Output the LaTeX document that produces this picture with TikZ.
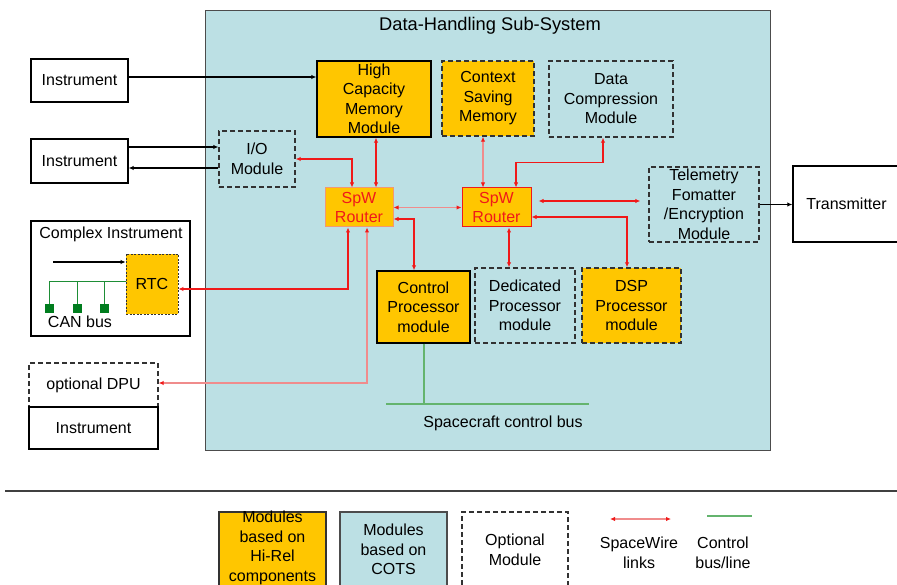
\documentclass[tikz,border=0pt]{standalone}
\usepackage{fontspec}
\setmainfont{Liberation Sans}
\usetikzlibrary{arrows.meta}
\definecolor{hirel}{RGB}{255,198,0}
\definecolor{cotsblue}{RGB}{188,224,228}
\definecolor{spwred}{RGB}{240,25,25}
\definecolor{spwpink}{RGB}{240,140,140}
\definecolor{busgreen}{RGB}{100,180,110}
\definecolor{cangreen}{RGB}{0,125,30}
\definecolor{dashgray}{RGB}{50,50,50}
\begin{document}
\begin{tikzpicture}[x=1pt,y=-1pt,
  every node/.style={font=\fontsize{16}{19.5}\selectfont, align=center, inner sep=0pt},
  sz/.style 2 args={minimum width=#1pt, minimum height=#2pt},
  solidbox/.style={draw=black, line width=1.4pt},
  optbox/.style={draw=dashgray, line width=1.4pt, dash pattern=on 5pt off 3pt},
  yel/.style={fill=hirel},
  router/.style={fill=hirel, text=spwred, line width=1pt},
  spw/.style={draw=spwred, line width=1.1pt, {Latex[length=5pt,width=4.5pt,color=spwred]}-{Latex[length=5pt,width=4.5pt,color=spwred]}},
  spwp/.style={spw, draw=spwpink},
  blk/.style={draw=black, line width=1.1pt, -{Latex[length=5pt,width=4.5pt]}},
  ctrl/.style={draw=busgreen, line width=2pt}
]
\useasboundingbox (0,0) rectangle (897,585);

% Data-handling sub-system
\node[draw=black!70, line width=0.8pt, fill=cotsblue, sz={565}{440}] (dhss) at (487.5,230) {};
\node[font=\fontsize{18.3}{22}\selectfont] (title) at (490,26) {Data-Handling Sub-System};

% external boxes
\node[solidbox, sz={97}{43}] (in1) at (79.5,80.5) {Instrument};
\node[solidbox, sz={97}{44}] (in2) at (79.5,161) {Instrument};
\node[solidbox, sz={159}{115}] (cplx) at (110.5,278.5) {};
\node (cplxt) at (111,234) {Complex Instrument};
\node[yel, draw=dashgray, line width=0.9pt, dash pattern=on 2pt off 1.5pt, sz={52}{60}] (rtc) at (152,284) {RTC};
\node[optbox, sz={129}{44}] (dpu) at (93.5,385) {optional DPU};
\node[solidbox, sz={129}{42}] (in3) at (93.5,428) {Instrument};
\node[solidbox, sz={107}{76}] (tx) at (846.5,204) {Transmitter};

% internal modules
\node[solidbox, yel, sz={114}{76}] (hcmm) at (374,99) {High\\Capacity\\Memory\\Module};
\node[optbox, yel, sz={92}{75}] (csm) at (488,98.5) {Context\\Saving\\Memory};
\node[optbox, sz={124}{76}] (dcm) at (611,99) {Data\\Compression\\Module};
\node[optbox, sz={76}{56}] (io) at (257,159) {I/O\\Module};
\node[router, draw=spwpink!80!hirel, sz={68}{39}] (r1) at (359,207.5) {SpW\\Router};
\node[router, draw=spwred, sz={69}{39}] (r2) at (496.5,207.5) {SpW\\Router};
\node[optbox, sz={110}{75}] (tel) at (704,204.5) {Telemetry\\Fomatter\\/Encryption\\Module};
\node[solidbox, yel, sz={93}{72}] (cp) at (423.5,307) {Control\\Processor\\module};
\node[optbox, sz={100}{75}] (ded) at (525,305.5) {Dedicated\\Processor\\module};
\node[optbox, yel, sz={99}{75}] (dsp) at (631.5,305.5) {DSP\\Processor\\module};

% spacecraft control bus
\coordinate (busL) at (386,404);
\coordinate (busR) at (589,404);
\draw[ctrl] (busL) -- (busR);
\draw[ctrl] (cp.south) -- (cp.south |- busL);
\node (busT) at (503,423) {Spacecraft control bus};

% black links
\draw[blk] ([yshift=3.5pt]in1.east) -- ([yshift=3.5pt]in1.east -| hcmm.west);
\draw[blk] ([yshift=14pt]in2.east) -- ([yshift=14pt]in2.east -| io.west);
\draw[blk] ([yshift=-7pt]in2.east -| io.west) -- ([yshift=-7pt]in2.east);
\draw[blk] (tel.east) -- (tel.east -| tx.west);

% complex instrument internals
\coordinate (cin) at (53,262);
\draw[blk] (cin) -- (cin -| rtc.west);
\coordinate (can1) at (49,282);
\coordinate (can2) at (77,282);
\coordinate (can3) at (104,282);
\draw[draw=cangreen!70!busgreen, line width=1pt] (can1) -- (can1 -| rtc.west);
\foreach \c in {can1,can2,can3} {
  \node[fill=cangreen, sz={9}{9}] (\c sq) at ([yshift=-27pt]\c) {};
  \draw[draw=cangreen!70!busgreen, line width=1pt] (\c) -- (\c sq.north);
}
\node (cant) at (80,322) {CAN bus};

% SpaceWire links
\draw[spw] ([xshift=2pt]hcmm.south) -- ([xshift=2pt]hcmm.south |- r1.north);
\draw[spw] (io.east) -| ([xshift=-7pt]r1.north);
\draw[spwp] (r1.east) -- (r2.west);
\draw[spw] ([yshift=-11.5pt]r1.east) -| ([xshift=-9.5pt]cp.north);
\draw[spw] ([xshift=-11pt]r1.south) |- ([yshift=-5pt]rtc.east);
\draw[spwp] ([xshift=8pt]r1.south) |- ([yshift=2pt]dpu.east);
\draw[spwp] ([xshift=-5pt]csm.south) -- ([xshift=-5pt]csm.south |- r2.north);
\draw[spw] ([xshift=-8pt]dcm.south) -- ++(0,25) -| ([xshift=19.5pt]r2.north);
\draw[spw, shorten <=7pt, shorten >=8pt] ([yshift=6.5pt]r2.east) -- ([yshift=6.5pt]r2.east -| tel.west);
\draw[spw] ([yshift=-9.5pt]r2.east) -| ([xshift=-4.5pt]dsp.north);
\draw[spw] ([xshift=12.5pt]r2.south) -- ([xshift=12.5pt]r2.south |- ded.north);

% separator
\coordinate (sepL) at (5,491);
\coordinate (sepR) at (897,491);
\draw[black!75, line width=2.6pt] (sepL) -- (sepR);

% legend
\node[draw=black!80, line width=1.2pt, yel, sz={107}{80}] (lg1) at (272.5,552) {};
\node (lg1t) at (272.5,548) {Modules\\based on\\Hi-Rel\\components};
\node[draw=black!70, line width=1.2pt, fill=cotsblue, sz={107}{80}] (lg2) at (393.5,552) {};
\node (lg2t) at (393.5,549.5) {Modules\\based on\\COTS};
\node[optbox, sz={106}{80}] (lg3) at (515,552) {};
\node (lg3t) at (515,550) {Optional\\Module};
\coordinate (lgsL) at (610,519);
\coordinate (lgsR) at (671,519);
\draw[spwp] (lgsL) -- (lgsR);
\node (lg4t) at (639,553) {SpaceWire\\links};
\coordinate (lgcL) at (707,516);
\coordinate (lgcR) at (752,516);
\draw[ctrl] (lgcL) -- (lgcR);
\node (lg5t) at (723,553) {Control\\bus/line};
\end{tikzpicture}
\end{document}
